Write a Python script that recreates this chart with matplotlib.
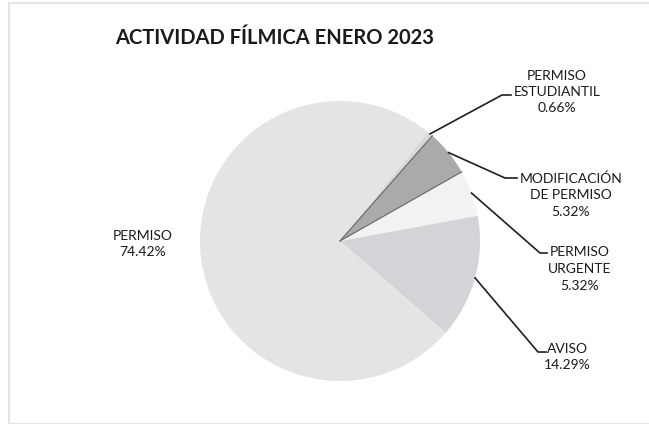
import numpy as np
import matplotlib.pyplot as plt
from matplotlib.patches import Rectangle

# Data (counterclockwise order, starting at AVISO)
labels = ['AVISO', 'PERMISO\nURGENTE', 'MODIFICACIÓN\nDE PERMISO', 'PERMISO\nESTUDIANTIL', 'PERMISO']
values = [14.29, 5.32, 5.32, 0.66, 74.42]
colors = ['#d4d4d8', '#f2f2f2', '#a9aaa9', '#d8d8d8', '#e4e4e4']

W, H = 649, 424


def py(y):
    # pixel row (from top) to data y
    return H - y


fig = plt.figure(figsize=(W / 100, H / 100), dpi=100)
ax = fig.add_axes([0, 0, 1, 1])
ax.set_xlim(0, W)
ax.set_ylim(0, H)
ax.set_aspect('equal')
ax.axis('off')

plt.rcParams['font.family'] = ['Lato', 'DejaVu Sans']

# faint chart frame from the scan
ax.add_patch(Rectangle((9, py(424)), 660, 421, fill=False, ec='#e4e4e4', lw=1.5))

cx, cy, r = 340, py(241), 140
wedges, _ = ax.pie(values, colors=colors, startangle=-41, counterclock=True,
                   center=(cx, cy), radius=r, wedgeprops=dict(linewidth=0))

# darker seams along the edges of the modification slice
for ang in (wedges[2].theta1, wedges[2].theta2):
    a = np.deg2rad(ang)
    ax.plot([cx, cx + r * np.cos(a)], [cy, cy + r * np.sin(a)], color='#666666', lw=0.8)

ax.set_xlim(0, W)
ax.set_ylim(0, H)

ax.text(275, py(38), 'ACTIVIDAD FÍLMICA ENERO 2023', ha='center', va='center',
        fontsize=14.5, fontweight='bold', color='#1a1a1a')

# label layout: text centre, elbow start, elbow end (pixels)
layout = {
    0: ((567, 357), (538, 352), (546, 352)),
    1: ((580, 269), (540, 253), (547, 253)),
    2: ((571, 195), (505, 178), (517, 178)),
    3: ((557, 92), (502, 95), (511, 95)),
}

for i, w in enumerate(wedges):
    txt = labels[i] + '\n' + '{:.2f}%'.format(values[i])
    if i in layout:
        (tx, ty), (ex, ey), (hx, hy) = layout[i]
        ang = np.deg2rad((w.theta1 + w.theta2) / 2)
        ax.plot([cx + r * np.cos(ang), ex, hx], [cy + r * np.sin(ang), py(ey), py(hy)],
                color='#1e1e1e', lw=1.2)
        ax.text(tx, py(ty), txt, ha='center', va='center', fontsize=10,
                linespacing=1.45, color='#1a1a1a')
    else:
        ax.text(143, py(244), txt, ha='center', va='center', fontsize=10,
                linespacing=1.45, color='#1a1a1a')

fig.savefig('out.png', dpi=100)
